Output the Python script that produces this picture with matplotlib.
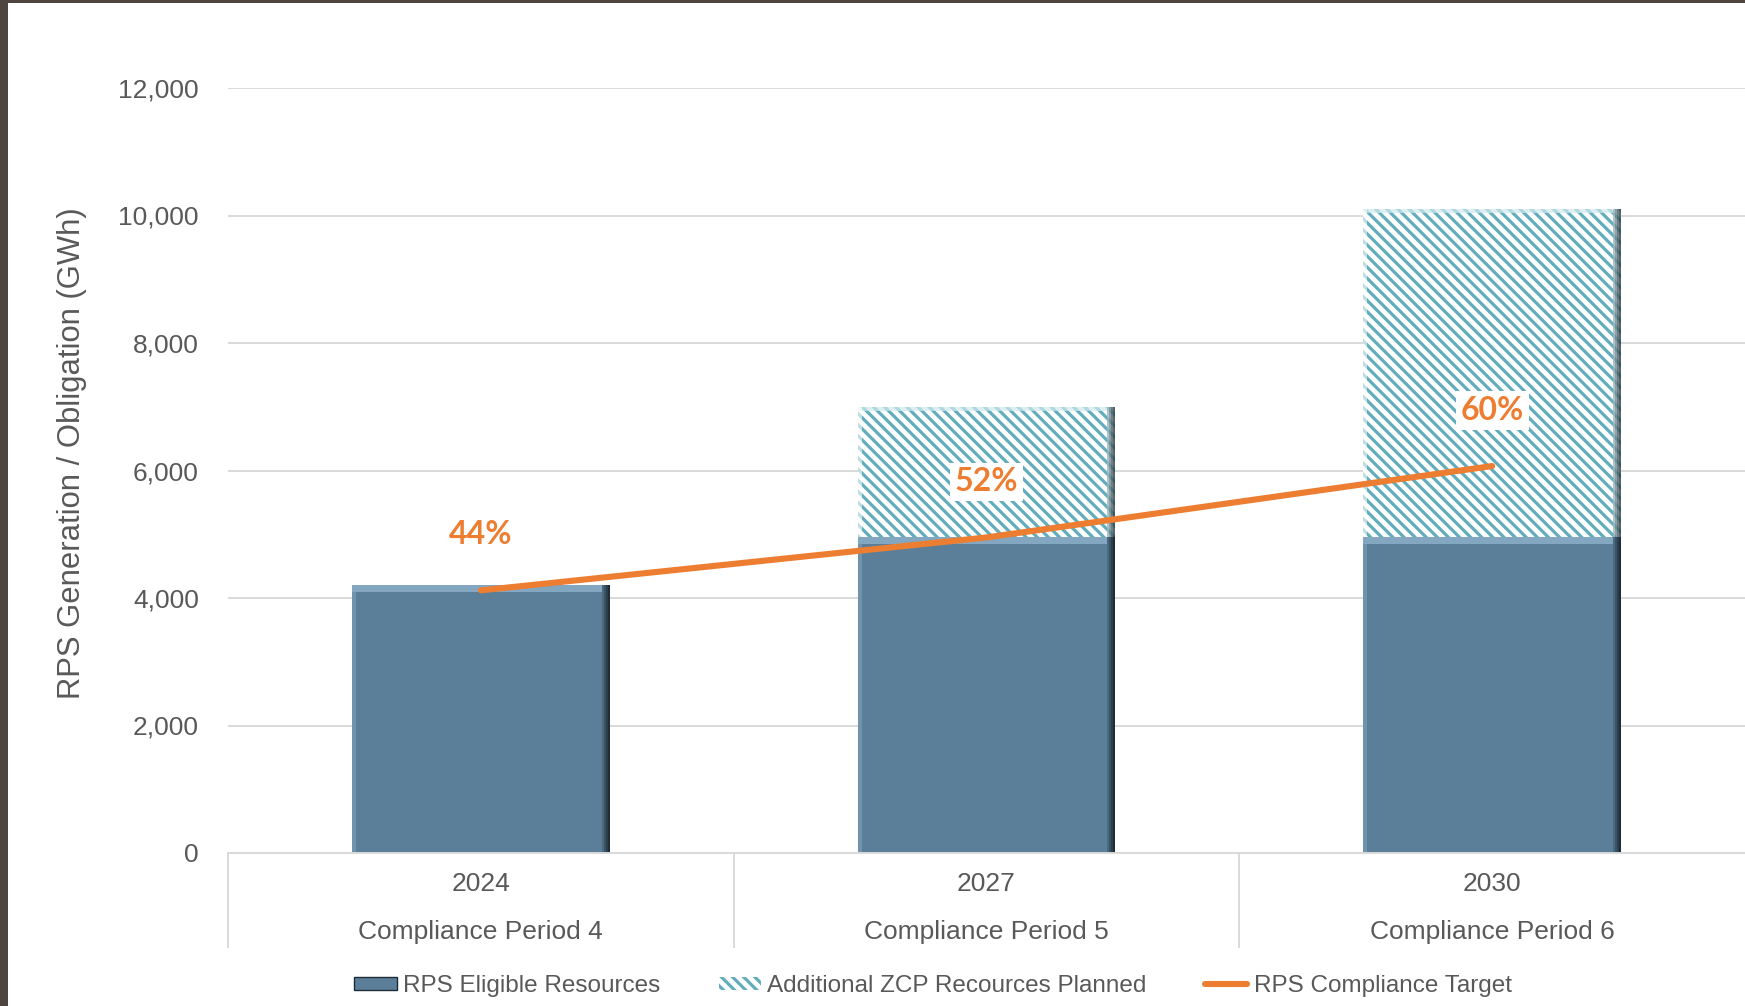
import matplotlib
matplotlib.use("Agg")
import matplotlib.pyplot as plt
from matplotlib.patches import Rectangle, Patch
from matplotlib.lines import Line2D
from matplotlib.transforms import blended_transform_factory
from matplotlib import font_manager
import numpy as np

# ---------------- data ----------------
years = ["2024", "2027", "2030"]
periods = ["Compliance Period 4", "Compliance Period 5", "Compliance Period 6"]
rps_eligible = [4200, 4950, 4950]
additional_zcp = [0, 2050, 5150]
compliance_target = [4120, 4950, 6070]
target_labels = ["44%", "52%", "60%"]
yticks = [0, 2000, 4000, 6000, 8000, 10000, 12000]
series_names = ["RPS Eligible Resources", "Additional ZCP Recources Planned", "RPS Compliance Target"]

# ---------------- style ----------------
W, H = 1745, 1006
GRAY_TXT = "#595959"
GRID = "#d9d9d9"
BAR = "#5b7f99"
BAR_LIGHT = "#83a7c0"
TEAL = "#62adbb"
ORANGE = "#ed7d31"
HATCH = chr(92) * 3

plt.rcParams["font.family"] = ["Liberation Sans", "DejaVu Sans"]
plt.rcParams["hatch.linewidth"] = 2.3

fig = plt.figure(figsize=(W / 100, H / 100), dpi=100)
ax_left, ax_right = 228 / W, 1.0
ax_bottom, ax_top = (H - 853) / H, (H - 88) / H
ax = fig.add_axes([ax_left, ax_bottom, ax_right - ax_left, ax_top - ax_bottom])

x = np.arange(len(years))
bw = 0.51
ax.set_xlim(-0.5, 2.5)
ax.set_ylim(0, 12000)

# gridlines
ax.set_yticks(yticks)
ax.set_yticklabels([f"{v:,}" for v in yticks], fontsize=19, color=GRAY_TXT)
ax.tick_params(axis="y", length=0, pad=21)
ax.grid(axis="y", color=GRID, linewidth=1.4)
ax.set_axisbelow(True)
for s in ["left", "right", "top"]:
    ax.spines[s].set_visible(False)
ax.spines["bottom"].set_color(GRID)
ax.spines["bottom"].set_linewidth(1.4)
ax.set_xticks([])

# bevel helpers
edge_w = 0.004
top_h = 110
dark_steps = ["#4a6a80", "#3a5466", "#2b3f4e", "#1e2d38"]
hatch_dark = ["#9fb6bc", "#6f8a92", "#4a6168", "#2f4147"]

for i in range(len(years)):
    # RPS eligible (solid, bevelled)
    b0, h0 = 0, rps_eligible[i]
    ax.bar(x[i], h0, bw, bottom=b0, color=BAR, linewidth=0, zorder=2)
    ax.bar(x[i], top_h, bw, bottom=b0 + h0 - top_h, color=BAR_LIGHT, linewidth=0, zorder=2.1)
    for k, c in enumerate(dark_steps):
        ax.bar(x[i] + bw / 2 - edge_w * (len(dark_steps) - k) + edge_w / 2, h0, edge_w,
               bottom=b0, color=c, linewidth=0, zorder=2.2)
    ax.bar(x[i] - bw / 2 + edge_w, h0 - top_h, edge_w * 2, bottom=b0, color="#6f93ad",
           linewidth=0, zorder=2.2)
    # Additional ZCP (hatched)
    h1 = additional_zcp[i]
    if h1 > 0:
        b1 = rps_eligible[i]
        ax.bar(x[i], h1, bw, bottom=b1, facecolor="white", edgecolor=TEAL, hatch=HATCH,
               linewidth=0, zorder=2)
        for k, c in enumerate(hatch_dark):
            ax.bar(x[i] + bw / 2 - edge_w * (len(hatch_dark) - k) + edge_w / 2, h1, edge_w,
                   bottom=b1, color=c, linewidth=0, zorder=2.2, alpha=0.8)
        ax.bar(x[i] - bw / 2 + edge_w, h1, edge_w * 2, bottom=b1, color="white",
               linewidth=0, zorder=2.2, alpha=0.6)
        ax.bar(x[i], top_h * 0.6, bw, bottom=b1 + h1 - top_h * 0.6, color="#cfe9ee",
               linewidth=0, zorder=2.1, alpha=0.7)

# compliance target line
ax.plot(x, compliance_target, color=ORANGE, linewidth=4.4, solid_capstyle="round", zorder=5)
for i, lab in enumerate(target_labels):
    ax.annotate(lab, xy=(x[i], compliance_target[i]), xytext=(0, 40), textcoords="offset points",
                ha="center", va="center", fontsize=23, fontweight="bold", color=ORANGE,
                family=["Lato", "DejaVu Sans"], zorder=6,
                bbox=dict(boxstyle="square,pad=0.15", facecolor="white", edgecolor="none"))

# category axis labels
axh = (853 - 88)
tr = blended_transform_factory(ax.transData, ax.transAxes)
for i in range(len(years)):
    ax.text(x[i], -31 / axh, years[i], transform=tr, ha="center", va="center",
            fontsize=19, color=GRAY_TXT)
    ax.text(x[i], -79 / axh, periods[i], transform=tr, ha="center", va="center",
            fontsize=19, color=GRAY_TXT)
for xs in [-0.5, 0.5, 1.5]:
    ax.plot([xs, xs], [0, -94 / axh], transform=tr, color=GRID, linewidth=1.4, clip_on=False)

# y label
fig.text(72 / W, 1 - 453 / H, "RPS Generation / Obligation (GWh)", rotation=90,
         ha="center", va="center", fontsize=22.3, color=GRAY_TXT)

# legend
names = {f.name for f in font_manager.fontManager.ttflist}
if "Liberation Sans Narrow" in names:
    leg_font = dict(family="Liberation Sans Narrow", size=21)
else:
    leg_font = dict(family="Liberation Sans", size=17.5)
handles = [
    Patch(facecolor=BAR, edgecolor="#1e2d38", linewidth=1),
    Patch(facecolor="white", edgecolor=TEAL, hatch=HATCH, linewidth=0),
    Line2D([0], [0], color=ORANGE, linewidth=4.4, solid_capstyle="round"),
]
leg = fig.legend(handles, series_names, loc="center", bbox_to_anchor=(933 / W, 20 / H),
                 ncol=3, frameon=False, prop=leg_font, handlelength=1.75, handleheight=0.45,
                 handletextpad=0.25, columnspacing=2.4, labelcolor=GRAY_TXT)

# dark frame at left and top
fig.patches.append(Rectangle((0, 0), 8 / W, 1, transform=fig.transFigure,
                             facecolor="#4e4540", edgecolor="none", zorder=10))
fig.patches.append(Rectangle((0, 1 - 3 / H), 1, 3 / H, transform=fig.transFigure,
                             facecolor="#4e4540", edgecolor="none", zorder=10))

fig.savefig("out.png", dpi=100)
